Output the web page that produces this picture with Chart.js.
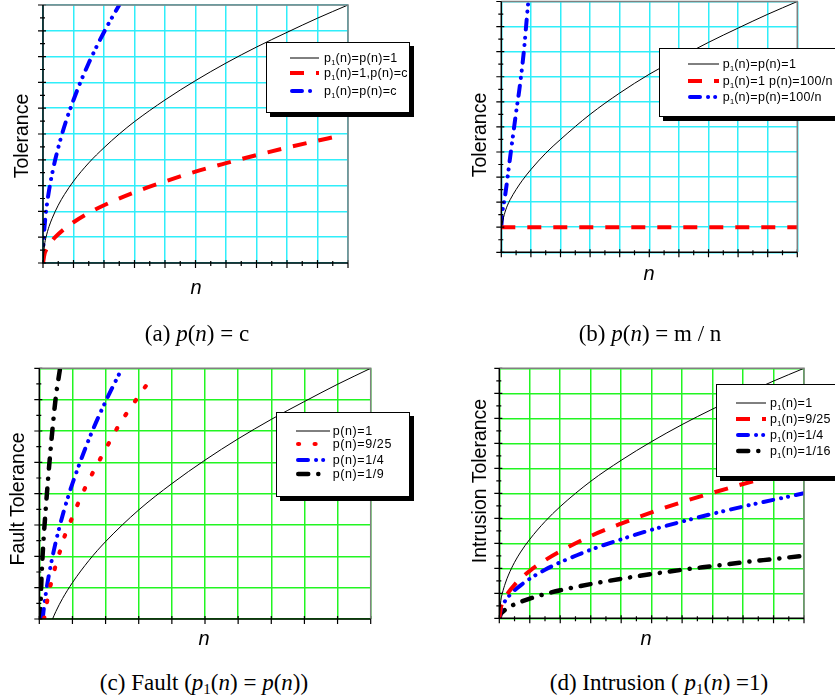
<!DOCTYPE html>
<html><head><meta charset="utf-8">
<script src="https://cdn.jsdelivr.net/npm/chart.js@4.4.1/dist/chart.umd.min.js"></script>
<style>
html,body{margin:0;padding:0;}
body{width:835px;height:698px;background:#fff;position:relative;overflow:hidden;font-family:"Liberation Sans",Arial,sans-serif;color:#000;}
canvas{position:absolute;}
.yt{position:absolute;font-size:19.5px;white-space:nowrap;transform:translate(-50%,-50%) rotate(-90deg);line-height:1;}
.xt{position:absolute;font-size:20px;font-style:italic;transform:translate(-50%,-50%);line-height:1;}
.cap{position:absolute;font-family:"Liberation Serif","Times New Roman",serif;font-size:23px;white-space:nowrap;transform:translate(-50%,-50%);line-height:1;}
.cap sub{font-size:15px;vertical-align:-4px;line-height:0;}
.leg{position:absolute;background:#fff;border:1px solid #000;box-shadow:4px 4px 0 #000;box-sizing:border-box;}
.lt{position:absolute;font-size:12.5px;letter-spacing:0.3px;white-space:nowrap;line-height:1;transform:translateY(-50%);}
.lt sub{font-size:7.5px;vertical-align:-3px;line-height:0;letter-spacing:0;}
svg{position:absolute;overflow:visible;}
</style>
</head><body>

<canvas id="cA" width="380" height="280" style="left:0;top:0"></canvas>
<canvas id="cB" width="375" height="270" style="left:460px;top:0"></canvas>
<canvas id="cC" width="390" height="285" style="left:0;top:350px"></canvas>
<canvas id="cD" width="375" height="285" style="left:460px;top:350px"></canvas>

<div class="yt" style="left:21.5px;top:136px">Tolerance</div>
<div class="yt" style="left:480px;top:135px">Tolerance</div>
<div class="yt" style="left:17.5px;top:499px">Fault Tolerance</div>
<div class="yt" style="left:480px;top:481px">Intrusion Tolerance</div>

<div class="xt" style="left:196px;top:287px">n</div>
<div class="xt" style="left:649px;top:273px">n</div>
<div class="xt" style="left:204px;top:638px">n</div>
<div class="xt" style="left:646px;top:638px">n</div>

<div class="cap" style="left:197px;top:333px">(a) <i>p</i>(<i>n</i>) = c</div>
<div class="cap" style="left:650px;top:333px">(b) <i>p</i>(<i>n</i>) = m / n</div>
<div class="cap" style="left:204px;top:682px">(c) Fault (<i>p</i><sub>1</sub>(<i>n</i>) = <i>p</i>(<i>n</i>))</div>
<div class="cap" style="left:659px;top:682px">(d) Intrusion ( <i>p</i><sub>1</sub>(<i>n</i>) =1)</div>

<script>
// ---------- DATA ----------
// Panel (a)
const nA1   = [0,0.5,1,2,3,5,7,10,15,20,25,30,40,50,60,70,80,90,100];
const tolA1 = [0,0.7,1.0,1.42,1.73,2.24,2.65,3.17,3.88,4.47,5.0,5.48,6.32,7.07,7.75,8.37,8.94,9.49,10];
const nA2   = [0,0.5,1,2,4,7,10,15,20,30,40,50,60,70,80,90,95];
const tolA2 = [0,0.35,0.5,0.71,1.0,1.32,1.58,1.94,2.24,2.74,3.16,3.54,3.87,4.18,4.47,4.74,4.87];
const nA3   = [0,0.25,0.5,1,2,3,4,6,8,10,12,15,18,21,25];
const tolA3 = [0,1.0,1.41,2.0,2.83,3.46,4.0,4.9,5.66,6.32,6.93,7.75,8.49,9.17,10];
const legendA = ['p<sub>1</sub>(n)=p(n)=1','p<sub>1</sub>(n)=1,p(n)=c','p<sub>1</sub>(n)=p(n)=c'];

// Panel (b)
const nB1   = [0,1,2,3,5,7,10,15,20,30,40,50,60,70,80,90,100];
const tolB1 = [1,1.5,1.85,2.1,2.5,2.85,3.3,3.95,4.5,5.5,6.35,7.1,7.75,8.37,8.94,9.49,10];
const nB2   = [0,100];
const tolB2 = [1,1];
const nB3   = [0,0.34,1.24,2.14,3.15,4.05,4.95,6.08,7.66,8.56,9.12];
const tolB3 = [1,1.55,2.22,3.01,3.94,4.74,5.54,6.47,8.06,9.26,10];
const legendB = ['p<sub>1</sub>(n)=p(n)=1','p<sub>1</sub>(n)=1 p(n)=100/n','p<sub>1</sub>(n)=p(n)=100/n'];

// Panel (c)
const nC1   = [4,5,7,10,15,20,30,40,50,60,70,80,90,100];
const tolC1 = [0,0.24,0.65,1.16,1.87,2.47,3.48,4.32,5.07,5.75,6.37,6.94,7.49,8];
const nC2   = [1.44,2,2.5,3.4,4.7,6.2,7.7,9.7,11.7,13.9,16.3,18.9,21.6,24.5,27.8,31.1,34.6];
const tolC2 = [0,0.36,0.64,1.08,1.62,2.15,2.66,3.18,3.69,4.2,4.7,5.21,5.73,6.27,6.78,7.28,7.8];
const nC3   = [1,1.5,2.2,3,4,6,8.75,12.3,16,20,24.1];
const tolC3 = [0,0.45,0.97,1.46,2.0,2.9,3.92,5.0,6.0,6.94,7.82];
const nC4   = [0.28,0.5,0.7,1.2,2,2.7,3.4,4.2,5,6.2];
const tolC4 = [0,0.8,1.4,2.4,3.59,4.54,5.4,6.3,7.1,7.95];
const legendC = ['p(n)=1','p(n)=9/25','p(n)=1/4','p(n)=1/9'];

// Panel (d)
const nD    = [0,0.5,1,2,3,5,7,10,15,20,30,40,50,60,70,80,90,100];
const tolD1 = [0,0.71,1,1.41,1.73,2.24,2.65,3.16,3.87,4.47,5.48,6.32,7.07,7.75,8.37,8.94,9.49,10];
const tolD2 = [0,0.42,0.6,0.85,1.04,1.34,1.59,1.9,2.32,2.68,3.29,3.79,4.24,4.65,5.02,5.37,5.69,6];
const tolD3 = [0,0.35,0.5,0.71,0.87,1.12,1.32,1.58,1.94,2.24,2.74,3.16,3.54,3.87,4.18,4.47,4.74,5];
const tolD4 = [0,0.18,0.25,0.35,0.43,0.56,0.66,0.79,0.97,1.12,1.37,1.58,1.77,1.94,2.09,2.24,2.37,2.5];
const legendD = ['p<sub>1</sub>(n)=1','p<sub>1</sub>(n)=9/25','p<sub>1</sub>(n)=1/4','p<sub>1</sub>(n)=1/16'];

// ---------- STYLES ----------
const ST = {
  solid:  {color:'#000', width:1,   dash:[],               cap:'butt'},
  dash:   {color:'#ff0000', width:4, dash:[14,12],          cap:'butt'},
  dot:    {color:'#ff0000', width:4.2, dash:[1.5,15.5],     cap:'round'},
  dashdd: {color:'#0000ff', width:4, dash:[10,8,0.1,7,0.1,8], cap:'round'},
  dashd:  {color:'#000', width:4.5, dash:[10,10,0.1,10],    cap:'round'}
};

function ds(xs, ys, st){
  return {
    data: xs.map((x,i)=>({x:x, y:ys[i]})),
    borderColor: st.color, borderWidth: st.width, borderDash: st.dash,
    borderCapStyle: st.cap, borderJoinStyle:'round',
    pointRadius:0, fill:false, cubicInterpolationMode:'monotone', tension:0.4
  };
}

const frameTicks = {
  id:'frameTicks',
  afterDraw(chart, args, o){
    const ctx = chart.ctx, a = chart.chartArea, xs = chart.scales.x, ys = chart.scales.y;
    ctx.save();
    ctx.lineCap='butt';
    ctx.strokeStyle='#000'; ctx.lineWidth=1.2;
    ctx.beginPath();
    for(let v=xs.min; v<=xs.max+1e-9; v+=o.xMinor){
      const px = xs.getPixelForValue(v);
      const major = Math.abs(Math.round(v/o.xMajor)*o.xMajor - v) < 1e-6;
      ctx.moveTo(px, a.bottom - (major?3:2)); ctx.lineTo(px, a.bottom + (major?5:3));
    }
    for(let v=ys.min; v<=ys.max+1e-9; v+=o.yMinor){
      const py = ys.getPixelForValue(v);
      const major = Math.abs(Math.round(v/o.yMajor)*o.yMajor - v) < 1e-6;
      ctx.moveTo(a.left + (major?3:2), py); ctx.lineTo(a.left - (major?5:3), py);
    }
    ctx.stroke();
    ctx.lineWidth=1.5;
    ctx.strokeStyle='#808080';
    ctx.beginPath(); ctx.moveTo(a.left, a.top); ctx.lineTo(a.right, a.top); ctx.lineTo(a.right, a.bottom); ctx.stroke();
    ctx.strokeStyle='#000';
    ctx.beginPath(); ctx.moveTo(a.left, a.top); ctx.lineTo(a.left, a.bottom); ctx.lineTo(a.right, a.bottom); ctx.stroke();
    ctx.restore();
  }
};

function makeChart(id, datasets, yMax, yStep, gridColor, pad, tk){
  return new Chart(document.getElementById(id), {
    type:'line',
    data:{datasets:datasets},
    plugins:[frameTicks],
    options:{
      responsive:false, animation:false, devicePixelRatio:1,
      layout:{padding:pad},
      plugins:{legend:{display:false}, tooltip:{enabled:false}, frameTicks:tk},
      scales:{
        x:{type:'linear', min:0, max:100,
           ticks:{display:false, stepSize:10},
           grid:{color:gridColor, lineWidth:1.5, drawTicks:false},
           border:{display:false}},
        y:{type:'linear', min:0, max:yMax,
           ticks:{display:false, stepSize:yStep},
           grid:{color:gridColor, lineWidth:1.5, drawTicks:false},
           border:{display:false}}
      }
    }
  });
}

const CYAN = '#30eefa', GREEN = '#22f522';

makeChart('cA', [ds(nA1,tolA1,ST.solid), ds(nA2,tolA2,ST.dash), ds(nA3,tolA3,ST.dashdd)],
  10, 1, CYAN, {left:43, top:5, right:32, bottom:17}, {xMajor:10,xMinor:5,yMajor:1,yMinor:0.5});
makeChart('cB', [ds(nB1,tolB1,ST.solid), ds(nB2,tolB2,ST.dash), ds(nB3,tolB3,ST.dashdd)],
  10, 1, CYAN, {left:41.3, top:1.5, right:37.7, bottom:17.7}, {xMajor:10,xMinor:5,yMajor:1,yMinor:0.5});
makeChart('cC', [ds(nC1,tolC1,ST.solid), ds(nC2,tolC2,ST.dot), ds(nC3,tolC3,ST.dashdd), ds(nC4,tolC4,ST.dashd)],
  8, 1, GREEN, {left:39.3, top:18.3, right:19.3, bottom:16}, {xMajor:10,xMinor:10,yMajor:1,yMinor:0.5});
makeChart('cD', [ds(nD,tolD1,ST.solid), ds(nD,tolD2,ST.dash), ds(nD,tolD3,ST.dashdd), ds(nD,tolD4,ST.dashd)],
  10, 1, GREEN, {left:39.3, top:18.3, right:31, bottom:16.7}, {xMajor:10,xMinor:5,yMajor:1,yMinor:0.5});

// ---------- LEGENDS (HTML) ----------
function legend(box, labels, styles, rowYs, sx0, sx1, tx, ls){
  const b = document.createElement('div');
  b.className='leg';
  b.style.left=box.l+'px'; b.style.top=box.t+'px';
  b.style.width=(box.r-box.l)+'px'; b.style.height=(box.b-box.t)+'px';
  document.body.appendChild(b);
  labels.forEach((lab,i)=>{
    const st = styles[i], y = rowYs[i];
    const svg = document.createElementNS('http://www.w3.org/2000/svg','svg');
    svg.setAttribute('width', sx1-sx0); svg.setAttribute('height', 10);
    svg.style.left = sx0+'px'; svg.style.top = (y-5)+'px';
    const ln = document.createElementNS('http://www.w3.org/2000/svg','line');
    const off = st.cap==='round' ? st.width/2 : 0;
    ln.setAttribute('x1', off); ln.setAttribute('x2', sx1-sx0-off);
    ln.setAttribute('y1', 5); ln.setAttribute('y2', 5);
    ln.setAttribute('stroke', st.color); ln.setAttribute('stroke-width', st.width);
    ln.setAttribute('stroke-linecap', st.cap);
    const d = (st === ST.dot) ? [1,15.5] : st.dash;
    if(d.length) ln.setAttribute('stroke-dasharray', d.join(' '));
    svg.appendChild(ln);
    document.body.appendChild(svg);
    const t = document.createElement('div');
    t.className='lt'; t.innerHTML = lab;
    t.style.left = tx+'px'; t.style.top = y+'px';
    if(ls) t.style.letterSpacing = ls+'px';
    document.body.appendChild(t);
  });
}

legend({l:266,t:41.7,r:410,b:113.3}, legendA, [ST.solid,ST.dash,ST.dashdd], [57.7,73.3,91], 290, 319, 324);
legend({l:659.3,t:48.3,r:845,b:117.3}, legendB, [ST.solid,ST.dash,ST.dashdd], [64,80.7,97.3], 688, 719, 722.7);
legend({l:276,t:412.3,r:410,b:497}, legendC, [ST.solid,ST.dot,ST.dashdd,ST.dashd], [430.7,444.3,460,474], 296, 330, 332.7, 0.6);
legend({l:716,t:384,r:845,b:477}, legendD, [ST.solid,ST.dash,ST.dashdd,ST.dashd], [402.7,419.3,435,450.7], 736, 766, 770);
</script>
</body></html>
